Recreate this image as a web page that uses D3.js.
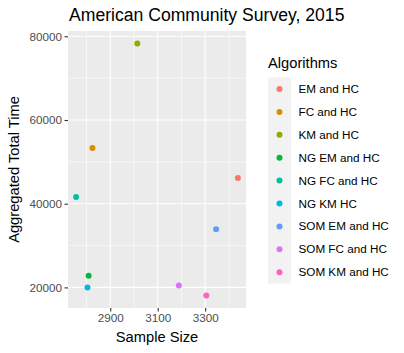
<!DOCTYPE html>
<html><head><meta charset="utf-8">
<script src="https://cdn.jsdelivr.net/npm/d3@7"></script>
<style>body{margin:0;background:#fff}svg{display:block}text{font-family:"Liberation Sans",Arial,sans-serif}</style>
</head><body>
<script>
const algorithms = ["EM and HC","FC and HC","KM and HC","NG EM and HC","NG FC and HC","NG KM HC","SOM EM and HC","SOM FC and HC","SOM KM and HC"];
const sampleSize = [3438, 2825, 3014, 2809, 2756, 2804, 3346, 3189, 3305];
const totalTime = [46150, 53300, 78260, 22800, 41600, 20000, 33870, 20480, 18090];
const colors = ["#F8766D","#D39200","#93AA00","#00BA38","#00C19F","#00B9E3","#619CFF","#DB72FB","#FF61C3"];
const xTicks = [2900, 3100, 3300];
const xMinor = [2800, 3000, 3200, 3400];
const yTicks = [20000, 40000, 60000, 80000];
const yMinor = [30000, 50000, 70000];

const W = 404, H = 353;
const panel = {l: 68, r: 246, t: 31, b: 308};
const svg = d3.select("body").append("svg").attr("width", W).attr("height", H);

const xe = d3.extent(sampleSize), ye = d3.extent(totalTime);
const xp = (xe[1]-xe[0])*0.05, yp = (ye[1]-ye[0])*0.05;
const x = d3.scaleLinear().domain([xe[0]-xp, xe[1]+xp]).range([panel.l, panel.r]);
const y = d3.scaleLinear().domain([ye[0]-yp, ye[1]+yp]).range([panel.b, panel.t]);

svg.append("rect").attr("x", panel.l).attr("y", panel.t).attr("width", panel.r-panel.l).attr("height", panel.b-panel.t).attr("fill", "#EBEBEB");
const g = svg.append("g");
g.selectAll(".xm").data(xMinor).join("line").attr("x1", d=>x(d)).attr("x2", d=>x(d)).attr("y1", panel.t).attr("y2", panel.b).attr("stroke", "#fff").attr("stroke-width", 0.55);
g.selectAll(".ym").data(yMinor).join("line").attr("y1", d=>y(d)).attr("y2", d=>y(d)).attr("x1", panel.l).attr("x2", panel.r).attr("stroke", "#fff").attr("stroke-width", 0.55);
g.selectAll(".xM").data(xTicks).join("line").attr("x1", d=>x(d)).attr("x2", d=>x(d)).attr("y1", panel.t).attr("y2", panel.b).attr("stroke", "#fff").attr("stroke-width", 1.1);
g.selectAll(".yM").data(yTicks).join("line").attr("y1", d=>y(d)).attr("y2", d=>y(d)).attr("x1", panel.l).attr("x2", panel.r).attr("stroke", "#fff").attr("stroke-width", 1.1);

const xAxis = svg.append("g").attr("transform", `translate(0,${panel.b})`)
  .call(d3.axisBottom(x).tickValues(xTicks).tickSize(3.5).tickPadding(2).tickFormat(d3.format("d")));
const yAxis = svg.append("g").attr("transform", `translate(${panel.l},0)`)
  .call(d3.axisLeft(y).tickValues(yTicks).tickSize(3.5).tickPadding(2.5).tickFormat(d3.format("d")));
[xAxis, yAxis].forEach(a => {
  a.select(".domain").remove();
  a.selectAll(".tick line").attr("stroke", "#333").attr("stroke-width", 1.1);
  a.selectAll(".tick text").attr("fill", "#4D4D4D").style("font-size", "11.7px").style("font-family", '"Liberation Sans",Arial,sans-serif');
});

svg.selectAll(".pt").data(algorithms).join("circle")
  .attr("cx", (d,i)=>x(sampleSize[i])).attr("cy", (d,i)=>y(totalTime[i]))
  .attr("r", 3).attr("fill", (d,i)=>colors[i]);

svg.append("text").attr("x", 69).attr("y", 21).attr("font-size", "17.6px").attr("fill", "#000").text("American Community Survey, 2015");
svg.append("text").attr("x", (panel.l+panel.r)/2).attr("y", 342).attr("text-anchor", "middle").attr("font-size", "14.7px").text("Sample Size");
svg.append("text").attr("transform", `translate(19,${(panel.t+panel.b)/2}) rotate(-90)`).attr("text-anchor", "middle").attr("font-size", "14.7px").text("Aggregated Total Time");

// legend
const lg = svg.append("g");
lg.append("text").attr("x", 268).attr("y", 68).attr("font-size", "14.7px").text("Algorithms");
lg.append("rect").attr("x", 268).attr("y", 77.5).attr("width", 23).attr("height", 206).attr("fill", "#F2F2F2");
const ky = i => 89 + i*22.9;
lg.selectAll("circle").data(algorithms).join("circle").attr("cx", 279.5).attr("cy", (d,i)=>ky(i)).attr("r", 3).attr("fill", (d,i)=>colors[i]);
lg.selectAll(".lt").data(algorithms).join("text").attr("x", 298.5).attr("y", (d,i)=>ky(i)+4).attr("font-size", "11.7px").attr("fill", "#000").text(d=>d);
</script>
</body></html>
